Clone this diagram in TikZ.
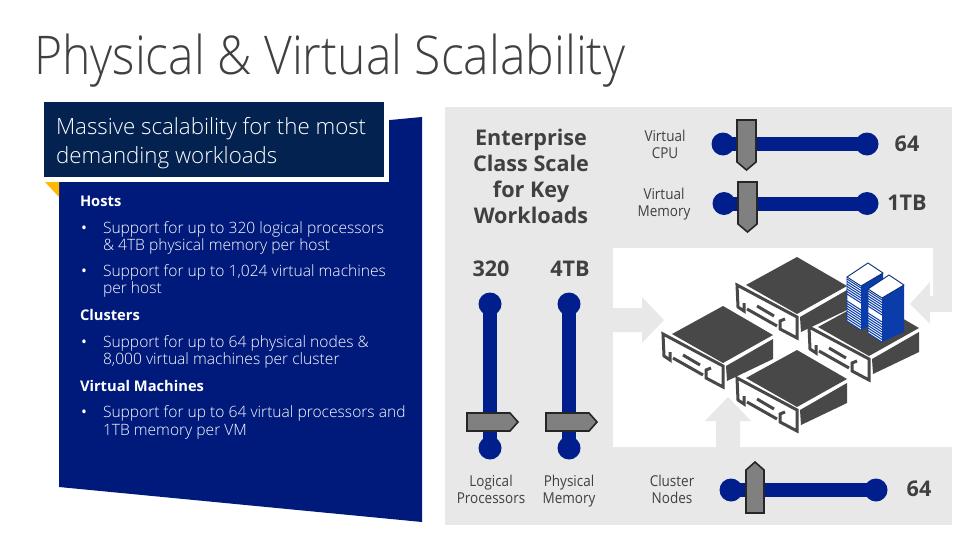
\documentclass[tikz,border=0pt]{standalone}
\usepackage{fontspec}
\setmainfont{Open Sans}
\newfontfamily\lightf{Open Sans Light}
\newfontfamily\titlef[FakeStretch=0.9]{Open Sans Light}
\newfontfamily\labf[FakeStretch=0.9]{Open Sans}
\definecolor{panelblue}{HTML}{001A7C}
\definecolor{boxnavy}{HTML}{03224F}
\definecolor{pale}{HTML}{E8E8E8}
\definecolor{ink}{HTML}{404040}
\definecolor{srv}{HTML}{484848}
\definecolor{knob}{HTML}{808080}
\definecolor{sliderblue}{HTML}{001E8C}
\definecolor{rackblue}{HTML}{0A3CAA}
\definecolor{gold}{HTML}{FFB900}
\tikzset{
  txt/.style={anchor=base west,inner sep=0pt,outer sep=0pt,text=white},
  bodytxt/.style={txt,font=\lightf\fontsize{15.6}{15.6}\selectfont},
  bullettxt/.style={txt,font=\fontsize{15.6}{15.6}\selectfont},
  headtxt/.style={txt,font=\bfseries\fontsize{14.7}{14.7}\selectfont},
  leadtxt/.style={txt,font=\lightf\fontsize{22.3}{22.3}\selectfont},
  lab/.style={anchor=base,inner sep=0pt,outer sep=0pt,text=ink,font=\labf\fontsize{15}{15}\selectfont},
  big/.style={anchor=base,inner sep=0pt,outer sep=0pt,text=ink,font=\bfseries\fontsize{21.6}{21.6}\selectfont},
  bar/.style={draw=sliderblue,line width=14pt},
  dot/.style={fill=sliderblue},
  handle/.style={draw=black!85,fill=knob,line width=1.6pt,line join=miter},
  flow/.style={fill=pale},
  pics/server/.style={code={
    \fill[srv] (0,0)--(50,29)--(0,57)--(-51,28)--cycle;
    \fill[srv] (3,60)--(50,33)--(50,53)--(4,75)--cycle;
    \draw[srv,line width=3pt,line join=miter]
      (-53,46)--(-53,54)--(-59,50)--(-60,28)--(0,60)--(0,81)--(-17,72)--(-17,64)--(-12,62);
    \draw[srv,line width=3pt] (-50,52)--(-20,69);
    \draw[srv,line width=3pt] (-40,49)--(-23,59);
  }},
  pics/rack/.style={code={
    \fill[rackblue] (-7,23)--(15,10)--(15,57)--(-7,67)--cycle;
    \fill[white] (-21,14)--(-7,23)--(-7,67)--(-21,58)--cycle;
    \foreach \d in {2,4.5,...,17,24,26.5,...,43}{
      \draw[rackblue,line width=1pt] (-21,14+\d)--(-7,23+\d);
    }
    \draw[rackblue,line width=.9pt,line join=round] (-21,14)--(-21,58)--(-7,67);
    \fill[white] (0,0)--(15,10)--(-7,23)--(-21,14)--cycle;
    \draw[rackblue!70!black,line width=.9pt,line join=round] (0,0)--(15,10)--(-7,23)--(-21,14)--cycle;
    \draw[rackblue,line width=.9pt] (-7,23)--(-7,67);
  }}
}
\begin{document}
\begin{tikzpicture}[x=1pt,y=-1pt]
\useasboundingbox (0,0) rectangle (979,551);
\fill[white] (0,0) rectangle (979,551);

% title
\node[anchor=base west,inner sep=0pt,text=ink,font=\titlef\fontsize{53.4}{53.4}\selectfont] (title) at (34,74.5) {Physical \& Virtual Scalability};

% left panel
\fill[panelblue] (59,125)--(390,120)--(422,117)--(422,522)--(59,487)--cycle;
\fill[gold] (44,181)--(59,181)--(59,197)--cycle;
\fill[white] (41,99) rectangle (389,182);
\fill[boxnavy] (44,102) rectangle (384,177);
\node[leadtxt] (lead1) at (56,134) {Massive scalability for the most};
\node[leadtxt] (lead2) at (56,163) {demanding workloads};

\node[headtxt] (hosts) at (80,206) {Hosts};
\node[bullettxt] (b1) at (81,233) {•};
\node[bodytxt] (t1a) at (103,233) {Support for up to 320 logical processors};
\node[bodytxt] (t1b) at (103,250) {\& 4TB physical memory per host};
\node[bullettxt] (b2) at (81,276) {•};
\node[bodytxt] (t2a) at (103,276) {Support for up to 1,024 virtual machines};
\node[bodytxt] (t2b) at (103,293) {per host};
\node[headtxt] (clusters) at (80,320) {Clusters};
\node[bullettxt] (b3) at (81,347) {•};
\node[bodytxt] (t3a) at (103,347) {Support for up to 64 physical nodes \&};
\node[bodytxt] (t3b) at (103,364) {8,000 virtual machines per cluster};
\node[headtxt] (vms) at (80,391) {Virtual Machines};
\node[bullettxt] (b4) at (81,417) {•};
\node[bodytxt] (t4a) at (103,417) {Support for up to 64 virtual processors and};
\node[bodytxt] (t4b) at (103,435) {1TB memory per VM};

% right panel
\fill[pale] (445,107) rectangle (952,525);
\fill[white] (613,248)--(933,248)--(933,312)--(952,312)--(952,447)--(613,447)--cycle;

% flow arrows
\fill[flow] (613,308)--(642,308)--(642,297)--(664,320)--(642,343)--(642,332)--(613,332)--cycle;
\fill[flow] (933,296)--(930,296)--(930,282)--(910,304)--(930,324)--(930,312)--(933,312)--cycle;
\fill[flow] (716,447)--(716,421)--(705,421)--(728,397)--(751,421)--(740,421)--(740,447)--cycle;

% servers
\path (797,257) pic {server};
\path (869,299) pic {server};
\path (723,306) pic {server};
\path (797,350) pic {server};
\path (868,263) pic {rack};
\path (889,275) pic {rack};

% heading
\node[big] (h1) at (531,145) {Enterprise};
\node[big] (h2) at (531,171) {Class Scale};
\node[big] (h3) at (531,197) {for Key};
\node[big] (h4) at (531,223) {Workloads};

% horizontal sliders
\draw[bar] (723,144)--(867,144);
\fill[dot] (723,144) circle (11.5) (867,144) circle (11.5);
\draw[handle] (737,120)--(756,120)--(756,162)--(746.5,170)--(737,162)--cycle;
\node[lab] (vc1) at (665,141) {Virtual};
\node[lab] (vc2) at (665,158) {CPU};
\node[big] (vcv) at (907,151) {64};

\draw[bar] (724,203.5)--(867,203.5);
\fill[dot] (724,203.5) circle (11.5) (867,203.5) circle (11.5);
\draw[handle] (738,182)--(757,182)--(757,224)--(747.5,232)--(738,224)--cycle;
\node[lab] (vm1) at (664,199) {Virtual};
\node[lab] (vm2) at (664,216) {Memory};
\node[big] (vmv) at (907,210) {1TB};

\draw[bar] (731,490)--(876,490);
\fill[dot] (731,490) circle (11.5) (876,490) circle (11.5);
\draw[handle] (746,513)--(764,513)--(764,470)--(755,462)--(746,470)--cycle;
\node[lab] (cn1) at (672,486) {Cluster};
\node[lab] (cn2) at (672,503) {Nodes};
\node[big] (cnv) at (919,496) {64};

% vertical sliders
\draw[bar] (490,304)--(490,448);
\fill[dot] (490,304) circle (11.5) (490,448) circle (11.5);
\draw[handle] (467,413)--(510,413)--(518,422)--(510,431)--(467,431)--cycle;
\node[big] (lpv) at (491,276) {320};
\node[lab] (lp1) at (491,486) {Logical};
\node[lab] (lp2) at (491,503) {Processors};

\draw[bar] (569,304)--(569,448);
\fill[dot] (569,304) circle (11.5) (569,448) circle (11.5);
\draw[handle] (546,413)--(589,413)--(597,422)--(589,431)--(546,431)--cycle;
\node[big] (pmv) at (570,276) {4TB};
\node[lab] (pm1) at (569,486) {Physical};
\node[lab] (pm2) at (569,503) {Memory};
\end{tikzpicture}
\end{document}
